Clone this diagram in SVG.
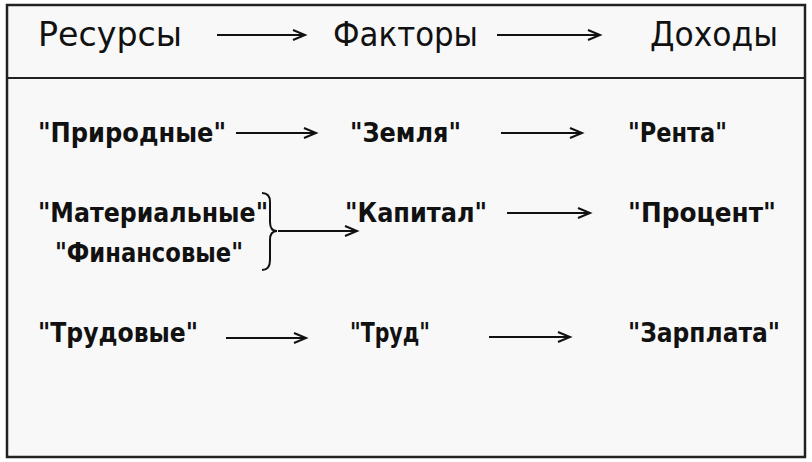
<svg xmlns="http://www.w3.org/2000/svg" width="812" height="462" viewBox="0 0 812 462">
<defs>
<style>
.t{font-family:"DejaVu Sans","Liberation Sans",sans-serif;fill:#111;}
.h{font-size:34px;}
.r{font-size:26px;font-weight:bold;}
.c{stroke:#111;stroke-width:2;fill:none;}
</style>
<marker id="ah" markerUnits="userSpaceOnUse" markerWidth="16" markerHeight="12" refX="13" refY="6" orient="auto">
<path d="M1,1 L13,6 L1,11" fill="none" stroke="#111" stroke-width="2"/>
</marker>
</defs>
<rect x="0" y="0" width="812" height="462" fill="#fff"/>
<rect x="7" y="5" width="798" height="452" fill="#f8f8f8" stroke="#222" stroke-width="2.5"/>
<line x1="7" y1="78" x2="805" y2="78" stroke="#222" stroke-width="2"/>
<g id="header">
<text class="t h" x="38" y="46" textLength="144" lengthAdjust="spacingAndGlyphs">Ресурсы</text>
<text class="t h" x="333" y="46" textLength="145" lengthAdjust="spacingAndGlyphs">Факторы</text>
<text class="t h" x="650" y="46" textLength="128" lengthAdjust="spacingAndGlyphs">Доходы</text>
</g>
<g id="n-prirodnye"><text class="t r" x="38" y="142" textLength="188" lengthAdjust="spacingAndGlyphs">"Природные"</text></g>
<g id="n-zemlya"><text class="t r" x="350" y="142" textLength="111" lengthAdjust="spacingAndGlyphs">"Земля"</text></g>
<g id="n-renta"><text class="t r" x="628" y="142" textLength="99" lengthAdjust="spacingAndGlyphs">"Рента"</text></g>
<g id="n-materialnye"><text class="t r" x="38" y="222" textLength="230" lengthAdjust="spacingAndGlyphs">"Материальные"</text></g>
<g id="n-finansovye"><text class="t r" x="55" y="262" textLength="188" lengthAdjust="spacingAndGlyphs">"Финансовые"</text></g>
<g id="n-kapital"><text class="t r" x="345" y="222" textLength="142" lengthAdjust="spacingAndGlyphs">"Капитал"</text></g>
<g id="n-procent"><text class="t r" x="628" y="222" textLength="148" lengthAdjust="spacingAndGlyphs">"Процент"</text></g>
<g id="n-trudovye"><text class="t r" x="38" y="342" textLength="160" lengthAdjust="spacingAndGlyphs">"Трудовые"</text></g>
<g id="n-trud"><text class="t r" x="350" y="342" textLength="80" lengthAdjust="spacingAndGlyphs">"Труд"</text></g>
<g id="n-zarplata"><text class="t r" x="628" y="342" textLength="152" lengthAdjust="spacingAndGlyphs">"Зарплата"</text></g>
<g id="connectors">
<line class="c" x1="217" y1="35" x2="305" y2="35" marker-end="url(#ah)"/>
<line class="c" x1="497" y1="35" x2="600" y2="35" marker-end="url(#ah)"/>
<line class="c" x1="236" y1="133" x2="316" y2="133" marker-end="url(#ah)"/>
<line class="c" x1="501" y1="133" x2="582" y2="133" marker-end="url(#ah)"/>
<path class="c" d="M262,193 Q270,193 270,202 L270,222 Q270,231 277,231 Q270,231 270,240 L270,260 Q270,270 262,270"/>
<line class="c" x1="278" y1="231" x2="357" y2="231" marker-end="url(#ah)"/>
<line class="c" x1="507" y1="213" x2="590" y2="213" marker-end="url(#ah)"/>
<line class="c" x1="226" y1="338" x2="306" y2="338" marker-end="url(#ah)"/>
<line class="c" x1="489" y1="337" x2="570" y2="337" marker-end="url(#ah)"/>
</g>
</svg>
